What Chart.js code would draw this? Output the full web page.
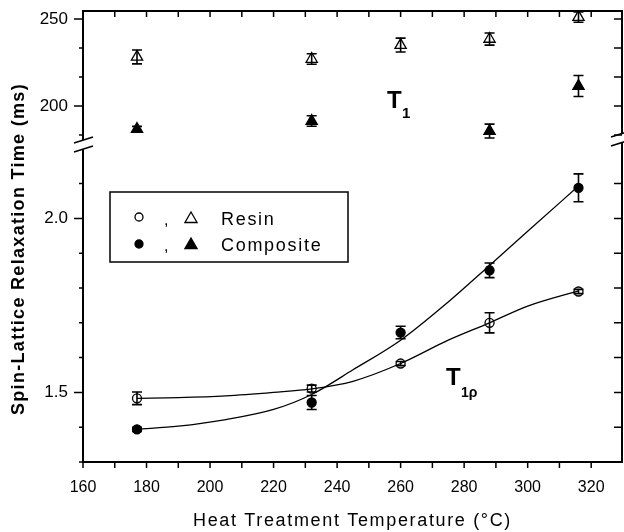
<!DOCTYPE html>
<html>
<head>
<meta charset="utf-8">
<title>Spin-lattice relaxation time vs heat treatment temperature</title>
<script src="https://cdn.jsdelivr.net/npm/chart.js@4.4.1/dist/chart.umd.min.js"></script>
<style>
  body { margin: 0; background: #fff; }
  canvas { display: block; }
</style>
</head>
<body>
<canvas id="myChart" width="624" height="532"></canvas>
<script>
'use strict';

// heat treatment temperatures (°C)
const temps = [177, 232, 260, 288, 316];

// T1 (ms), upper panel
const resinT1 = [228.2, 227.0, 235.0, 238.5, 251.1];
const resinT1Err = [4, 3, 4, 3.5, 3];
const compositeT1 = [186.8, 191.4, null, 185.6, 211.5];
const compositeT1Err = [1.5, 3, null, 4, 6];

// T1rho (ms), lower panel
const resinT1r = [1.483, 1.511, 1.583, 1.700, 1.790];
const resinT1rErr = [0.018, 0.010, 0.006, 0.029, 0.006];
const compositeT1r = [1.394, 1.471, 1.672, 1.851, 2.088];
const compositeT1rErr = [0.006, 0.020, 0.018, 0.021, 0.040];

// guide curves through the T1rho points
const curveTemps = [177, 190, 205, 220, 232, 245, 260, 275, 288, 300, 316];
const resinCurve = [1.483, 1.485, 1.490, 1.500, 1.510, 1.532, 1.583, 1.650, 1.700, 1.748, 1.792];
const compositeCurve = [1.394, 1.403, 1.422, 1.451, 1.494, 1.565, 1.650, 1.760, 1.865, 1.963, 2.093];

// ticks and labels
const xTicks = [160, 170, 180, 190, 200, 210, 220, 230, 240, 250, 260, 270, 280, 290, 300, 310, 320];
const xLabels = [160, 180, 200, 220, 240, 260, 280, 300, 320];
const t1Ticks = [183.33, 200, 216.67, 233.33, 250];
const t1Labels = [200, 250];
const t1rTicks = [1.3, 1.4, 1.5, 1.6, 1.7, 1.8, 1.9, 2.0, 2.1];
const t1rLabels = [1.5, 2.0];

const xTitle = 'Heat Treatment Temperature (°C)';
const yTitle = 'Spin-Lattice Relaxation Time (ms)';
const legendNames = ['Resin', 'Composite'];

const FONT = '"Liberation Sans", Arial, sans-serif';

function pairs(xs, ys) {
    return xs.map((x, i) => ({ x: x, y: ys[i] }));
}

function spacedText(ctx, text, left, y, width) {
    ctx.letterSpacing = '0px';
    let w0 = ctx.measureText(text).width;
    let gap = (width - w0) / text.length;
    ctx.letterSpacing = gap + 'px';
    ctx.textAlign = 'left';
    ctx.fillText(text, left, y);
    ctx.letterSpacing = '0px';
}

function drawTriangle(ctx, x, y, r, filled) {
    ctx.beginPath();
    ctx.moveTo(x, y - r);
    ctx.lineTo(x + 0.866 * r, y + 0.5 * r);
    ctx.lineTo(x - 0.866 * r, y + 0.5 * r);
    ctx.closePath();
    if (filled) ctx.fill();
    ctx.stroke();
}

function drawCircle(ctx, x, y, r, filled) {
    ctx.beginPath();
    ctx.arc(x, y, r, 0, Math.PI * 2);
    if (filled) ctx.fill();
    ctx.stroke();
}

function drawErrorBars(chart) {
    let ctx = chart.ctx;
    let sx = chart.scales.x;
    ctx.save();
    ctx.strokeStyle = '#000';
    ctx.lineWidth = 1.6;
    chart.data.datasets.forEach(ds => {
        if (!ds.errors) return;
        let sy = chart.scales[ds.yAxisID];
        ds.data.forEach((p, i) => {
            let e = ds.errors[i];
            if (p.y === null || e === null) return;
            let px = sx.getPixelForValue(p.x);
            let top = sy.getPixelForValue(p.y + e);
            let bot = sy.getPixelForValue(p.y - e);
            ctx.beginPath();
            ctx.moveTo(px, top);
            ctx.lineTo(px, bot);
            ctx.moveTo(px - 5, top);
            ctx.lineTo(px + 5, top);
            ctx.moveTo(px - 5, bot);
            ctx.lineTo(px + 5, bot);
            ctx.stroke();
        });
    });
    ctx.restore();
}

function drawFrame(chart) {
    let ctx = chart.ctx;
    let a = chart.chartArea;
    let breakY = chart.scales.yT1.bottom;
    ctx.save();
    ctx.strokeStyle = '#000';
    ctx.lineWidth = 2;
    ctx.beginPath();
    ctx.moveTo(a.left - 1, a.top);
    ctx.lineTo(a.right + 1, a.top);
    ctx.moveTo(a.left - 1, a.bottom);
    ctx.lineTo(a.right + 1, a.bottom);
    ctx.moveTo(a.left, a.top);
    ctx.lineTo(a.left, breakY - 5);
    ctx.moveTo(a.left, breakY + 4);
    ctx.lineTo(a.left, a.bottom);
    ctx.moveTo(a.right, a.top);
    ctx.lineTo(a.right, breakY - 11);
    ctx.moveTo(a.right, breakY - 3);
    ctx.lineTo(a.right, a.bottom);
    ctx.stroke();

    // axis break marks
    ctx.lineWidth = 1.5;
    ctx.beginPath();
    ctx.moveTo(a.left - 9, breakY - 2);
    ctx.lineTo(a.left + 10, breakY - 8);
    ctx.moveTo(a.left - 9, breakY + 7);
    ctx.lineTo(a.left + 10, breakY + 1);
    ctx.moveTo(a.right - 11, breakY - 8);
    ctx.lineTo(a.right + 8, breakY - 14);
    ctx.moveTo(a.right - 11, breakY + 1);
    ctx.lineTo(a.right + 8, breakY - 5);
    ctx.stroke();

    // tick marks
    let sx = chart.scales.x;
    ctx.beginPath();
    xTicks.forEach(v => {
        let px = sx.getPixelForValue(v);
        ctx.moveTo(px, a.bottom);
        ctx.lineTo(px, a.bottom + 6);
        ctx.moveTo(px, a.top);
        ctx.lineTo(px, a.top + 6);
    });
    [['yT1', t1Ticks, t1Labels], ['yT1r', t1rTicks, t1rLabels]].forEach(item => {
        let sy = chart.scales[item[0]];
        item[1].forEach(v => {
            let py = sy.getPixelForValue(v);
            let len = item[2].includes(v) ? 9 : 4;
            ctx.moveTo(a.left - len, py);
            ctx.lineTo(a.left, py);
            ctx.moveTo(a.right, py);
            ctx.lineTo(a.right - 8, py);
        });
    });
    ctx.stroke();
    ctx.restore();
}

function drawTexts(chart) {
    let ctx = chart.ctx;
    ctx.save();
    ctx.fillStyle = '#000';
    ctx.strokeStyle = '#000';
    ctx.textBaseline = 'alphabetic';

    // axis titles
    ctx.font = '18px ' + FONT;
    spacedText(ctx, xTitle, 193, 526, 319);

    ctx.save();
    ctx.translate(24, 249);
    ctx.rotate(-Math.PI / 2);
    ctx.font = 'bold 18px ' + FONT;
    spacedText(ctx, yTitle, -166, 0, 332);
    ctx.restore();

    // T1 / T1rho labels
    ctx.textAlign = 'left';
    ctx.font = 'bold 24px ' + FONT;
    ctx.fillText('T', 387, 108);
    ctx.fillText('T', 446, 385);
    ctx.font = 'bold 15px ' + FONT;
    ctx.fillText('1', 402, 118);
    ctx.font = 'bold 14px ' + FONT;
    ctx.fillText('1ρ', 461, 397);

    // legend
    ctx.lineWidth = 1.5;
    ctx.strokeRect(110, 192, 238, 70);
    ctx.lineWidth = 1.3;
    ctx.fillStyle = '#000';
    drawCircle(ctx, 139, 217, 4, false);
    drawTriangle(ctx, 191, 219, 7, false);
    drawCircle(ctx, 139, 244, 4, true);
    drawTriangle(ctx, 191, 245, 7, true);
    ctx.font = '16px ' + FONT;
    ctx.fillText(',', 164, 225);
    ctx.fillText(',', 164, 251);
    ctx.font = '18px ' + FONT;
    ctx.letterSpacing = '1.7px';
    ctx.fillText(legendNames[0], 221, 225);
    ctx.fillText(legendNames[1], 221, 251);
    ctx.letterSpacing = '0px';
    ctx.restore();
}

const extras = {
    id: 'extras',
    afterDatasetsDraw(chart) {
        drawErrorBars(chart);
    },
    afterDraw(chart) {
        drawFrame(chart);
        drawTexts(chart);
    }
};

function pointSet(label, ys, errs, axis, style, radius, filled) {
    return {
        label: label,
        data: pairs(temps, ys),
        errors: errs,
        yAxisID: axis,
        showLine: false,
        pointStyle: style,
        pointRadius: radius,
        pointHoverRadius: radius,
        pointBackgroundColor: filled ? '#000' : 'rgba(255,255,255,0)',
        pointBorderColor: '#000',
        pointBorderWidth: 1.3,
        order: 1
    };
}

function curveSet(label, ys) {
    return {
        label: label,
        data: pairs(curveTemps, ys),
        yAxisID: 'yT1r',
        borderColor: '#000',
        borderWidth: 1.3,
        pointRadius: 0,
        cubicInterpolationMode: 'monotone',
        fill: false,
        order: 2
    };
}

function yAxis(ticks, labels, min, max, weight, stackWeight, digits) {
    return {
        type: 'linear',
        position: 'left',
        stack: 'y',
        stackWeight: stackWeight,
        weight: weight,
        min: min,
        max: max,
        afterBuildTicks: scale => {
            scale.ticks = ticks.map(v => ({ value: v }));
        },
        afterFit: scale => {
            scale.width = 83;
            scale.paddingTop = 0;
            scale.paddingBottom = 0;
        },
        grid: { display: false, drawTicks: false },
        border: { display: false },
        ticks: {
            color: '#000',
            padding: 15,
            autoSkip: false,
            font: { size: 17 },
            callback: v => labels.includes(v) ? v.toFixed(digits) : ''
        }
    };
}

Chart.defaults.font.family = FONT;
Chart.defaults.color = '#000';

let ctx = document.getElementById('myChart').getContext('2d');

let chart = new Chart(ctx, {
    type: 'line',
    data: {
        datasets: [
            curveSet('Resin T1rho curve', resinCurve),
            curveSet('Composite T1rho curve', compositeCurve),
            pointSet('Resin T1', resinT1, resinT1Err, 'yT1', 'triangle', 6.5, false),
            pointSet('Composite T1', compositeT1, compositeT1Err, 'yT1', 'triangle', 6.5, true),
            pointSet('Resin T1rho', resinT1r, resinT1rErr, 'yT1r', 'circle', 4.5, false),
            pointSet('Composite T1rho', compositeT1r, compositeT1rErr, 'yT1r', 'circle', 4.5, true)
        ]
    },
    options: {
        responsive: false,
        animation: false,
        devicePixelRatio: 1,
        layout: {
            autoPadding: false,
            padding: { left: 0, top: 11, right: 2, bottom: 0 }
        },
        plugins: {
            legend: { display: false },
            tooltip: { enabled: false }
        },
        scales: {
            x: {
                type: 'linear',
                min: 160,
                max: 329.7,
                afterBuildTicks: scale => {
                    scale.ticks = xTicks.map(v => ({ value: v }));
                },
                afterFit: scale => {
                    scale.height = 70;
                    scale.paddingLeft = 0;
                    scale.paddingRight = 0;
                },
                grid: { display: false, drawTicks: false },
                border: { display: false },
                ticks: {
                    color: '#000',
                    padding: 16,
                    autoSkip: false,
                    maxRotation: 0,
                    font: { size: 16 },
                    callback: v => xLabels.includes(v) ? String(v) : ''
                }
            },
            yT1: yAxis(t1Ticks, t1Labels, 177.6, 254.6, 1, 134, 0),
            yT1r: yAxis(t1rTicks, t1rLabels, 1.3, 2.211, 0, 317, 1)
        }
    },
    plugins: [extras]
});
</script>
</body>
</html>
